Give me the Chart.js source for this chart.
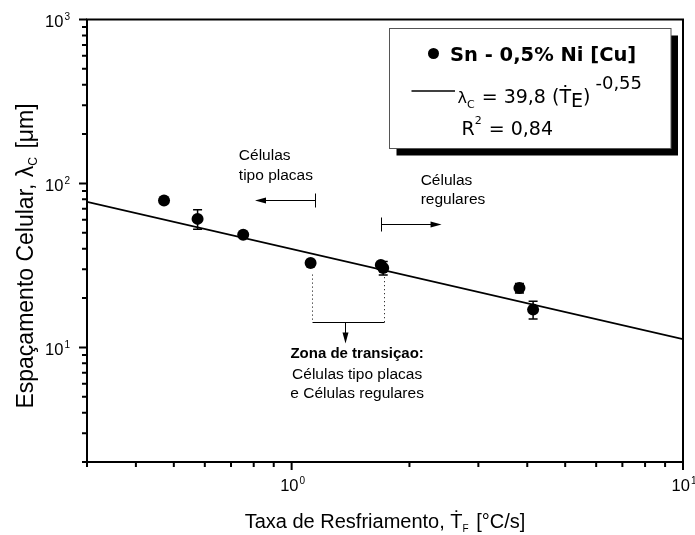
<!DOCTYPE html>
<html>
<head>
<meta charset="utf-8">
<script src="https://cdn.jsdelivr.net/npm/chart.js@4.4.1/dist/chart.umd.min.js"></script>
<style>
  html, body { margin: 0; padding: 0; background: #fff; }
  canvas { display: block; }
</style>
</head>
<body>
<canvas id="chart" width="695" height="535"></canvas>
<script>
// Measured cell spacing vs. cooling rate, Sn - 0,5% Ni alloy on copper
const coolingRate   = [0.472, 0.575, 0.752, 1.118, 1.69, 1.714, 3.82, 4.14];   // °C/s
const cellSpacing   = [78.7, 60.8, 48.6, 32.7, 31.8, 30.5, 23.0, 17.0];        // µm
const spacingError  = [0, 8.2, 0, 0, 0, 2.9, 1.5, 2.1];                        // µm

// Power-law fit  λc = 39,8 (Ṫ)^-0,55 , R² = 0,84
const fitCoefficient = 39.8;
const fitExponent = -0.55;
const fitR2 = '0,84';
const fitRange = [0.3, 10];

// Axis ticks (log decades with minor ticks)
const xTickValues = [0.3, 0.4, 0.5, 0.6, 0.7, 0.8, 0.9, 1, 2, 3, 4, 5, 6, 7, 8, 9, 10];
const yTickValues = [2, 3, 4, 5, 6, 7, 8, 9, 10, 20, 30, 40, 50, 60, 70, 80, 90,
                     100, 200, 300, 400, 500, 600, 700, 800, 900, 1000];

const seriesName = 'Sn - 0,5% Ni [Cu]';

// ---------- fonts ----------
const LEG_FAMILY = '"DejaVu Sans", sans-serif';
const ARIAL = '"Liberation Sans", Arial, sans-serif';

// ---------- annotation layout (data coordinates) ----------
const platesMark  = { x: 1.147, y: 79.3, tip: 0.806, textX: 0.733, textY: [146.8, 110.8], lines: ['Células', 'tipo placas'] };
const regularMark = { x: 1.691, y: 56.4, tip: 2.416, textX: 2.136, textY: [104.3, 79.3], lines: ['Células', 'regulares'] };
const transition  = {
  left: 1.125, right: 1.724, leftTop: 27.8, rightTop: 26.8, base: 14.2,
  arrowX: 1.368, arrowTip: 10.58,
  textX: 1.47, textY: [9.11, 6.81, 5.19],
  lines: ['Zona de transiçao:', 'Células tipo placas', 'e Células regulares']
};

function isDecade(v) {
  const l = Math.log10(v);
  return Math.abs(l - Math.round(l)) < 1e-9;
}

function richText(ctx, parts, x, y, align) {
  let w = 0;
  parts.forEach(p => { ctx.font = p.font; w += ctx.measureText(p.t).width + (p.gap || 0); });
  let cx = align === 'center' ? x - w / 2 : align === 'right' ? x - w : x;
  ctx.textAlign = 'left';
  ctx.textBaseline = 'alphabetic';
  parts.forEach(p => {
    ctx.font = p.font;
    ctx.fillText(p.t, cx, y + (p.dy || 0));
    cx += ctx.measureText(p.t).width + (p.gap || 0);
  });
  return w;
}

function arrowHead(ctx, x, y, dx, dy, len, half) {
  // filled triangle with its tip at (x, y) pointing along (dx, dy)
  const px = -dy, py = dx;
  ctx.beginPath();
  ctx.moveTo(x, y);
  ctx.lineTo(x - dx * len + px * half, y - dy * len + py * half);
  ctx.lineTo(x - dx * len - px * half, y - dy * len - py * half);
  ctx.closePath();
  ctx.fill();
}

// ---------- plugins ----------
const errorBars = {
  id: 'errorBars',
  afterDatasetsDraw(chart) {
    const { ctx, scales: { x, y } } = chart;
    ctx.save();
    ctx.strokeStyle = '#000';
    ctx.lineWidth = 1.5;
    coolingRate.forEach((r, i) => {
      const e = spacingError[i];
      if (!e) return;
      const px = x.getPixelForValue(r);
      const top = y.getPixelForValue(cellSpacing[i] + e);
      const bot = y.getPixelForValue(cellSpacing[i] - e);
      ctx.beginPath();
      ctx.moveTo(px, top); ctx.lineTo(px, bot);
      ctx.moveTo(px - 4.5, top); ctx.lineTo(px + 4.5, top);
      ctx.moveTo(px - 4.5, bot); ctx.lineTo(px + 4.5, bot);
      ctx.stroke();
    });
    ctx.restore();
  }
};

const frameAndAxes = {
  id: 'frameAndAxes',
  afterDraw(chart) {
    const { ctx, chartArea: a, scales: { x, y } } = chart;
    ctx.save();
    ctx.strokeStyle = '#000';
    ctx.fillStyle = '#000';
    ctx.lineWidth = 2;
    ctx.strokeRect(a.left, a.top, a.right - a.left, a.bottom - a.top);

    // tick marks
    ctx.beginPath();
    x.ticks.forEach(t => {
      const p = x.getPixelForValue(t.value);
      ctx.moveTo(p, a.bottom);
      ctx.lineTo(p, a.bottom + (t.major ? 8 : 5));
    });
    y.ticks.forEach(t => {
      const p = y.getPixelForValue(t.value);
      ctx.moveTo(a.left, p);
      ctx.lineTo(a.left - (t.major ? 8 : 5), p);
    });
    ctx.stroke();

    // decade labels 10^n
    const base = '16.5px ' + ARIAL;
    const sup = '10px ' + ARIAL;
    x.ticks.filter(t => t.major).forEach(t => {
      const p = x.getPixelForValue(t.value);
      const n = String(Math.round(Math.log10(t.value)));
      richText(ctx, [{ t: '10', font: base, gap: 1 }, { t: n, font: sup, dy: -7 }], p + 1, a.bottom + 29, 'center');
    });
    y.ticks.filter(t => t.major).forEach(t => {
      const p = y.getPixelForValue(t.value);
      const n = String(Math.round(Math.log10(t.value)));
      richText(ctx, [{ t: '10', font: base, gap: 1 }, { t: n, font: sup, dy: -7 }], a.left - 17, p + 7.5, 'right');
    });

    // axis titles
    const tf = '20px ' + ARIAL;
    const ts = '10px ' + ARIAL;
    richText(ctx, [
      { t: 'Taxa de Resfriamento, Ṫ', font: tf },
      { t: 'F', font: ts, dy: 4, gap: 2 },
      { t: ' [°C/s]', font: tf }
    ], 385, 527.5, 'center');

    ctx.save();
    ctx.translate(33, 256);
    ctx.rotate(-Math.PI / 2);
    const yf = '23px ' + ARIAL;
    const ys = '12px ' + ARIAL;
    richText(ctx, [
      { t: 'Espaçamento Celular, λ', font: yf },
      { t: 'C', font: ys, dy: 4, gap: 2 },
      { t: ' [μm]', font: yf }
    ], 0, 0, 'center');
    ctx.restore();
    ctx.restore();
  }
};

const annotations = {
  id: 'annotations',
  afterDraw(chart) {
    const { ctx, scales: { x, y } } = chart;
    const X = v => x.getPixelForValue(v);
    const Y = v => y.getPixelForValue(v);
    ctx.save();
    ctx.strokeStyle = '#000';
    ctx.fillStyle = '#000';
    ctx.lineWidth = 1;

    // bracketed arrows for the two growth regimes
    [platesMark, regularMark].forEach(m => {
      const bx = Math.round(X(m.x)) + 0.5, by = Math.round(Y(m.y)) + 0.5, tx = X(m.tip);
      const dir = tx > bx ? 1 : -1;
      ctx.beginPath();
      ctx.moveTo(bx, by - 7); ctx.lineTo(bx, by + 7);
      ctx.moveTo(bx, by); ctx.lineTo(tx - dir * 8, by);
      ctx.stroke();
      arrowHead(ctx, tx, by, dir, 0, 11, 3);
      ctx.font = '15.5px ' + ARIAL;
      ctx.textAlign = 'left';
      ctx.textBaseline = 'middle';
      m.lines.forEach((s, i) => ctx.fillText(s, X(m.textX), Y(m.textY[i])));
    });

    // transition zone bracket
    const l = Math.round(X(transition.left)) + 0.5;
    const r = Math.round(X(transition.right)) + 0.5;
    const b = Math.round(Y(transition.base)) + 0.5;
    ctx.setLineDash([1, 3]);
    ctx.beginPath();
    ctx.moveTo(l, Y(transition.leftTop)); ctx.lineTo(l, b);
    ctx.moveTo(r, Y(transition.rightTop)); ctx.lineTo(r, b);
    ctx.stroke();
    ctx.setLineDash([]);
    ctx.beginPath();
    ctx.moveTo(l, b); ctx.lineTo(r, b);
    const ax = Math.round(X(transition.arrowX)) + 0.5;
    const tipY = Y(transition.arrowTip);
    ctx.moveTo(ax, b); ctx.lineTo(ax, tipY - 8);
    ctx.stroke();
    arrowHead(ctx, ax, tipY, 0, 1, 11, 3);

    ctx.textAlign = 'center';
    ctx.textBaseline = 'middle';
    transition.lines.forEach((s, i) => {
      ctx.font = (i === 0 ? 'bold 15px ' : '15.5px ') + ARIAL;
      ctx.fillText(s, X(transition.textX), Y(transition.textY[i]));
    });
    ctx.restore();
  }
};

const legendBox = {
  id: 'legendBox',
  afterDraw(chart) {
    const { ctx } = chart;
    const bx = 389.5, by = 28.5, bw = 281.5, bh = 120;
    ctx.save();
    ctx.fillStyle = '#000';
    ctx.fillRect(bx + 7, by + 7, bw, bh);
    ctx.fillStyle = '#fff';
    ctx.fillRect(bx, by, bw, bh);
    ctx.strokeStyle = '#555';
    ctx.lineWidth = 1;
    ctx.strokeRect(bx, by, bw, bh);

    ctx.fillStyle = '#000';
    // series entry
    ctx.beginPath();
    ctx.arc(433.5, 53.5, 5.5, 0, Math.PI * 2);
    ctx.fill();
    richText(ctx, [{ t: seriesName, font: 'bold 19.5px ' + LEG_FAMILY }], 450, 60.7, 'left');

    // fit entry
    const f = '19px ' + LEG_FAMILY;
    const fs = '11px ' + LEG_FAMILY;
    ctx.strokeStyle = '#000';
    ctx.lineWidth = 1.5;
    ctx.beginPath();
    ctx.moveTo(411.5, 91); ctx.lineTo(455, 91);
    ctx.stroke();
    const coef = String(fitCoefficient).replace('.', ',');
    const expo = String(fitExponent).replace('.', ',');
    richText(ctx, [
      { t: 'λ', font: '16px ' + LEG_FAMILY },
      { t: 'C', font: fs, dy: 5, gap: 1 },
      { t: ' = ' + coef + ' (Ṫ', font: f },
      { t: 'E', font: f, dy: 4 },
      { t: ')', font: f, gap: 5 },
      { t: expo, font: '18px ' + LEG_FAMILY, dy: -14 }
    ], 457.5, 102.7, 'left');
    richText(ctx, [
      { t: 'R', font: f },
      { t: '2', font: fs, dy: -11, gap: 1 },
      { t: ' = ' + fitR2, font: f }
    ], 461.5, 135, 'left');
    ctx.restore();
  }
};

// ---------- chart ----------
const fitLine = fitRange.map(v => ({ x: v, y: fitCoefficient * Math.pow(v, fitExponent) }));
const points = coolingRate.map((v, i) => ({ x: v, y: cellSpacing[i] }));

new Chart(document.getElementById('chart'), {
  data: {
    datasets: [
      {
        type: 'line',
        label: 'fit',
        data: fitLine,
        borderColor: '#000',
        borderWidth: 1.8,
        pointRadius: 0,
        fill: false
      },
      {
        type: 'scatter',
        label: seriesName,
        data: points,
        pointRadius: 6,
        pointBackgroundColor: '#000',
        pointBorderWidth: 0,
        pointStyle: 'circle'
      }
    ]
  },
  options: {
    responsive: false,
    animation: false,
    events: [],
    layout: { padding: { top: 19.5, right: 12, left: 0, bottom: 0 } },
    plugins: { legend: { display: false }, tooltip: { enabled: false } },
    scales: {
      x: {
        type: 'logarithmic',
        min: fitRange[0],
        max: fitRange[1],
        position: 'bottom',
        grid: { display: false },
        border: { display: false },
        ticks: { display: false },
        afterBuildTicks: s => { s.ticks = xTickValues.map(v => ({ value: v, major: isDecade(v) })); },
        afterFit: s => { s.height = 73; }
      },
      y: {
        type: 'logarithmic',
        min: yTickValues[0],
        max: yTickValues[yTickValues.length - 1],
        position: 'left',
        grid: { display: false },
        border: { display: false },
        ticks: { display: false },
        afterBuildTicks: s => { s.ticks = yTickValues.map(v => ({ value: v, major: isDecade(v) })); },
        afterFit: s => { s.width = 87; }
      }
    }
  },
  plugins: [errorBars, frameAndAxes, annotations, legendBox]
});
</script>
</body>
</html>
